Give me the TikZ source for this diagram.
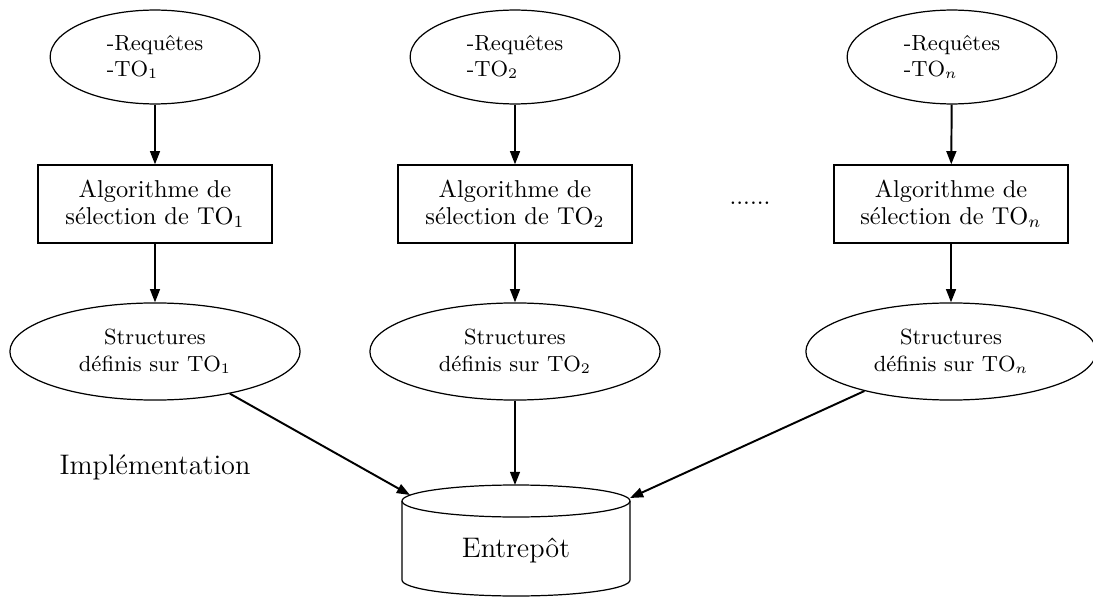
\documentclass[tikz,border=0pt]{standalone}
\usetikzlibrary{shapes.geometric,arrows.meta}
\begin{document}
\begin{tikzpicture}[x=0.41pt,y=0.41pt,
  topell/.style={ellipse,draw,line width=0.5pt,minimum width=86pt,minimum height=38.5pt,inner sep=0pt,align=left,font=\fontsize{9}{10.8}\selectfont},
  algbox/.style={rectangle,draw,line width=0.5pt,minimum width=96pt,minimum height=32pt,inner sep=0pt,align=center,font=\fontsize{10}{10.8}\selectfont},
  botell/.style={ellipse,draw,line width=0.5pt,minimum width=119pt,minimum height=39.8pt,inner sep=0pt,align=center,font=\fontsize{9}{11}\selectfont},
  arr/.style={line width=0.8pt,-{Triangle[length=5.4pt,width=4pt]}},
  bigtext/.style={font=\fontsize{11.6}{14}\selectfont,inner sep=0pt}]
\useasboundingbox (0,0) rectangle (1093,597);
% top ellipses
\node[topell] (e1) at (155,540) {-Requêtes\\-TO$_1$};
\node[topell] (e2) at (515,540) {-Requêtes\\-TO$_2$};
\node[topell] (e3) at (952,540) {-Requêtes\\-TO$_n$};
% rectangles
\node[algbox] (r1) at (155,393) {Algorithme de\\sélection de TO$_1$};
\node[algbox] (r2) at (515,393) {Algorithme de\\sélection de TO$_2$};
\node[algbox] (r3) at (951,393) {Algorithme de\\sélection de TO$_n$};
\node[inner sep=0pt,font=\fontsize{10}{12}\selectfont] (dots) at (750,393.5) {......};
% bottom ellipses
\node[botell] (b1) at (155,245.5) {Structures\\définis sur TO$_1$};
\node[botell] (b2) at (515,245.5) {Structures\\définis sur TO$_2$};
\node[botell] (b3) at (951,245.5) {Structures\\définis sur TO$_n$};
% label
\node[bigtext] (impl) at (155,130) {Implémentation};
% cylinder
\draw[line width=0.5pt] (402,96) -- (402,17)
  arc[start angle=180,end angle=360,x radius=46.74pt,y radius=6.56pt] -- (630,96);
\draw[line width=0.5pt] (516,96) ellipse[x radius=46.74pt,y radius=6.56pt];
\node[bigtext] (ent) at (516,47) {Entrepôt};
\coordinate (ct) at (515,112);
\coordinate (cl) at (410,102);
\coordinate (cr) at (630,99);
% arrows
\draw[arr] (e1) -- (r1);
\draw[arr] (e2) -- (r2);
\draw[arr] (e3) -- (r3);
\draw[arr] (r1) -- (b1);
\draw[arr] (r2) -- (b2);
\draw[arr] (r3) -- (b3);
\draw[arr] (b1) -- (cl);
\draw[arr] (b2) -- (ct);
\draw[arr] (b3) -- (cr);
\end{tikzpicture}
\end{document}
